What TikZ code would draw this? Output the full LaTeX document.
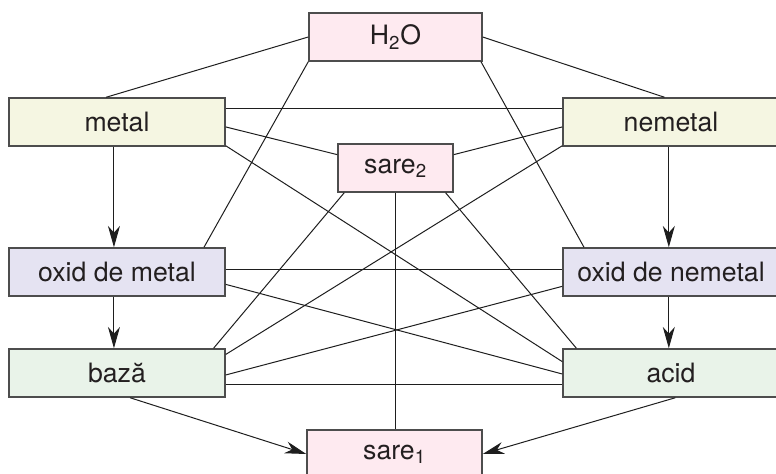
\documentclass[tikz,border=0pt]{standalone}
\usepackage{fontspec}
\setmainfont{TeX Gyre Heros}
\usetikzlibrary{calc,arrows.meta}

\tikzset{every picture/.style={line width=0.75pt}}
\tikzset{
  box/.style={draw={rgb, 255:red, 77; green, 77; blue, 77}, line width=1.1pt,
    minimum height=36pt, inner sep=0pt,
    text={rgb, 255:red, 35; green, 31; blue, 32}, font=\fontsize{20}{24}\selectfont},
  widebox/.style={box, minimum width=162pt},
  saltbox/.style={box, fill={rgb, 255:red, 254; green, 234; blue, 240}},
  elembox/.style={widebox, fill={rgb, 255:red, 245; green, 246; blue, 226}},
  oxbox/.style={widebox, fill={rgb, 255:red, 229; green, 227; blue, 242}},
  hydrbox/.style={widebox, fill={rgb, 255:red, 233; green, 243; blue, 233}},
  link/.style={draw={rgb, 255:red, 30; green, 30; blue, 30}, line width=0.75pt},
  flow/.style={link, -{Stealth[length=16pt, width=9pt, inset=5pt]}},
}

\begin{document}
\begin{tikzpicture}[x=0.75pt,y=0.75pt,yscale=-1,xscale=1]
\useasboundingbox (0,0) rectangle (776,474);

%Shape: Rectangle [water and salts]
\node [saltbox, minimum width=129.75pt] (apa) at (395.5,37) {H\textsubscript{2}O};
\node [saltbox, minimum width=86.25pt] (sare2) at (395.5,168) {sare\textsubscript{2}};
\node [saltbox, minimum width=131.25pt] (sare1) at (394.5,454) {sare\textsubscript{1}};
%Shape: Rectangle [left column]
\node [elembox] (metal) at (117,122) {metal};
\node [oxbox] (oxmetal) at (117,272) {oxid de metal};
\node [hydrbox] (baza) at (117,373) {bază};
%Shape: Rectangle [right column]
\node [elembox] (nemetal) at (671,122) {nemetal};
\node [oxbox] (oxnemetal) at (671,272) {oxid de nemetal};
\node [hydrbox] (acid) at (671,373) {acid};

%Straight Lines [links]
\draw [link] ($(metal.north west)!0.45!(metal.north east)$) -- (apa.west);
\draw [link] (apa.east) -- ($(nemetal.north west)!0.47!(nemetal.north east)$);
\draw [link] (apa.south west) -- ($(oxmetal.north west)!0.9!(oxmetal.north east)$);
\draw [link] ($(apa.south west)!0.99!(apa.south east)$) -- ($(oxnemetal.north west)!0.1!(oxnemetal.north east)$);
\draw [link] ($(metal.north east)!0.23!(metal.south east)$) -- ($(nemetal.north west)!0.23!(nemetal.south west)$);
\draw [link] ($(metal.north east)!0.6!(metal.south east)$) -- ($(sare2.north west)!0.23!(sare2.south west)$);
\draw [link] ($(metal.north east)!0.98!(metal.south east)$) -- ($(acid.north west)!0.27!(acid.south west)$);
\draw [link] ($(nemetal.north west)!0.6!(nemetal.south west)$) -- ($(sare2.north east)!0.23!(sare2.south east)$);
\draw [link] ($(nemetal.north west)!0.98!(nemetal.south west)$) -- ($(baza.north east)!0.125!(baza.south east)$);
\draw [link] ($(sare2.south west)!0.06!(sare2.south east)$) -- ($(baza.north west)!0.944!(baza.north east)$);
\draw [link] (sare2.south) -- (sare2.south |- sare1.north);
\draw [link] ($(sare2.south west)!0.93!(sare2.south east)$) -- ($(acid.north west)!0.065!(acid.north east)$);
\draw [link] ($(oxmetal.north east)!0.44!(oxmetal.south east)$) -- ($(oxnemetal.north west)!0.44!(oxnemetal.south west)$);
\draw [link] ($(oxmetal.north east)!0.75!(oxmetal.south east)$) -- ($(acid.north west)!0.52!(acid.south west)$);
\draw [link] ($(oxnemetal.north west)!0.79!(oxnemetal.south west)$) -- ($(baza.north east)!0.54!(baza.south east)$);
\draw [link] ($(baza.north east)!0.73!(baza.south east)$) -- ($(acid.north west)!0.73!(acid.south west)$);

%Straight Lines [arrows]
\draw [flow] ($(metal.south west)!0.486!(metal.south east)$) -- ($(oxmetal.north west)!0.486!(oxmetal.north east)$);
\draw [flow] ($(oxmetal.south west)!0.486!(oxmetal.south east)$) -- ($(baza.north west)!0.486!(baza.north east)$);
\draw [flow] ($(nemetal.south west)!0.49!(nemetal.south east)$) -- ($(oxnemetal.north west)!0.49!(oxnemetal.north east)$);
\draw [flow] ($(oxnemetal.south west)!0.49!(oxnemetal.south east)$) -- ($(acid.north west)!0.49!(acid.north east)$);
\draw [flow] ($(baza.south west)!0.56!(baza.south east)$) -- (sare1.west);
\draw [flow] ($(acid.south west)!0.52!(acid.south east)$) -- (sare1.east);

\end{tikzpicture}
\end{document}
